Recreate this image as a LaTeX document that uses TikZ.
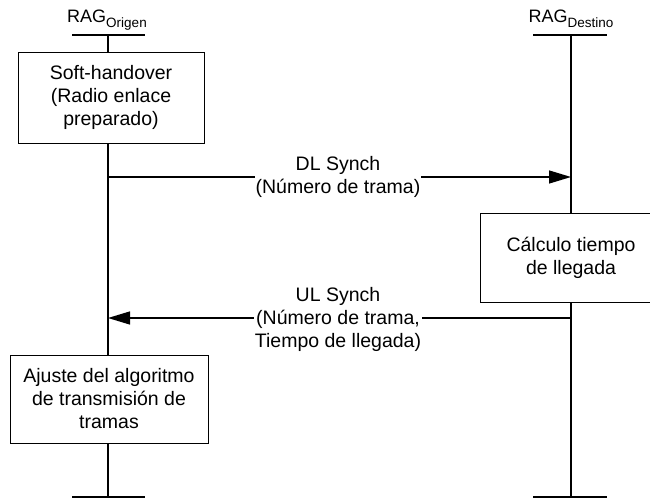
\documentclass[tikz,border=0pt]{standalone}
\usepackage{fontspec}
\setmainfont{Liberation Sans}
\usetikzlibrary{arrows.meta}
\begin{document}
\begin{tikzpicture}[x=1pt,y=-1pt,
  lifeline/.style={line width=1.3pt},
  endbar/.style={line width=2pt},
  procbox/.style={draw,line width=0.9pt,fill=white,align=center,inner sep=0pt,
    font=\fontsize{19.5}{23}\selectfont},
  msg/.style={line width=1.3pt,-{Triangle[length=22pt,width=13pt]}},
  msglabel/.style={fill=white,align=center,inner sep=1pt,
    font=\fontsize{19.5}{23}\selectfont},
  head/.style={anchor=base,inner sep=0pt}]
\useasboundingbox (0,0) rectangle (650,500);
% lifeline end points
\coordinate (ltop) at (108,35);
\coordinate (lbot) at (108,497);
\coordinate (rtop) at (571,35);
\coordinate (rbot) at (571,497);
% headers
\node[head] (lhead) at (107,23) {\fontsize{18}{20}\selectfont RAG\raisebox{-4.5pt}{\fontsize{13.5}{15}\selectfont Origen}};
\node[head] (rhead) at (571,23) {\fontsize{18}{20}\selectfont RAG\raisebox{-4.5pt}{\fontsize{13.5}{15}\selectfont Destino}};
% lifelines
\draw[lifeline] (ltop) -- (lbot);
\draw[lifeline] (rtop) -- (rbot);
% bars
\draw[endbar] ([xshift=-36pt]ltop) -- ([xshift=37pt]ltop);
\draw[endbar] ([xshift=-36pt]lbot) -- ([xshift=37pt]lbot);
\draw[endbar] ([xshift=-38pt]rtop) -- ([xshift=36pt]rtop);
\draw[endbar] ([xshift=-38pt]rbot) -- ([xshift=36pt]rbot);
% boxes
\node[procbox,minimum width=186pt,minimum height=91pt] (soft) at (111,97.5)
  {Soft-handover\\(Radio enlace\\preparado)};
\node[procbox,minimum width=182pt,minimum height=89pt] (calc) at (571,257.5)
  {Cálculo tiempo\\de llegada};
\node[procbox,minimum width=198pt,minimum height=88pt] (ajuste) at (109,399)
  {Ajuste del algoritmo\\de transmisión de\\tramas};
% messages
\coordinate (dlS) at (108,177);
\coordinate (dlE) at (571,177);
\coordinate (ulS) at (571,318);
\coordinate (ulE) at (108,318);
\draw[msg] (dlS) -- (dlE);
\node[msglabel] (dllab) at (338,177) {DL Synch\\(Número de trama)};
\draw[msg] (ulS) -- (ulE);
\node[msglabel] (ullab) at (338,319) {UL Synch\\(Número de trama,\\Tiempo de llegada)};
\end{tikzpicture}
\end{document}
